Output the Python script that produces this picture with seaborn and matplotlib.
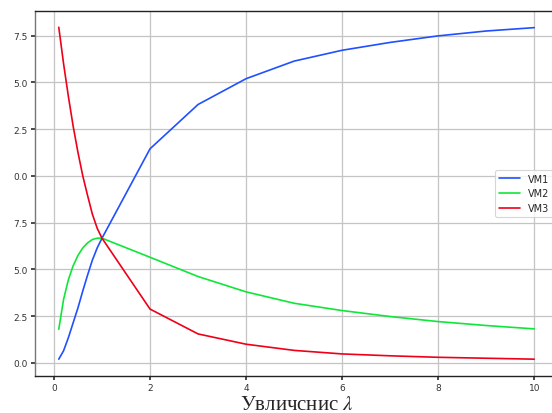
import numpy as np
import pandas as pd
import matplotlib
matplotlib.use("Agg")
import matplotlib.pyplot as plt
import seaborn as sns

x_vals = [0.1, 0.2, 0.3, 0.4, 0.5, 0.6, 0.7, 0.8, 0.9, 1.0, 2, 3, 4, 5, 6, 7, 8, 9, 10]
vm1 = [0.2, 0.65, 1.35, 2.15, 2.95, 3.85, 4.7, 5.5, 6.15, 6.67,
       11.45, 13.82, 15.2, 16.14, 16.72, 17.14, 17.49, 17.75, 17.93]
vm2 = [1.8, 3.4, 4.45, 5.2, 5.75, 6.15, 6.42, 6.6, 6.67, 6.67,
       5.65, 4.62, 3.8, 3.19, 2.8, 2.48, 2.21, 2.0, 1.82]
vm3 = [17.95, 16.0, 14.25, 12.65, 11.25, 10.0, 8.95, 7.95, 7.2, 6.67,
       2.88, 1.55, 1.0, 0.67, 0.48, 0.38, 0.3, 0.25, 0.2]
series_names = ["VM1", "VM2", "VM3"]
y_ticks = [0.0, 2.5, 5.0, 7.5, 10.0, 12.5, 15.0, 17.5]
y_tick_labels = ["0.0", "2.5", "5.0", "7.5", "0.0", "2.5", "5.0", "7.5"]
x_label = "Увличснис $\\lambda$"

df = pd.concat([
    pd.DataFrame({"x": x_vals, "y": v, "series": n})
    for n, v in zip(series_names, [vm1, vm2, vm3])
], ignore_index=True)

sns.set_theme(style="whitegrid", rc={
    "axes.edgecolor": "#222222",
    "axes.linewidth": 1.0,
    "grid.color": "#c4c4c4",
    "grid.linewidth": 0.9,
    "xtick.bottom": True,
    "ytick.left": True,
    "xtick.major.size": 3,
    "ytick.major.size": 3,
    "xtick.color": "#333333",
    "ytick.color": "#333333",
})
plt.rcParams["font.family"] = ["DejaVu Sans"]
plt.rcParams["mathtext.fontset"] = "stix"

fig = plt.figure(figsize=(5.52, 4.14), dpi=100)
ax = fig.add_axes([35 / 552, 37 / 414, (558 - 35) / 552, (377 - 12) / 414])

palette = {"VM1": "#2050ff", "VM2": "#10e63a", "VM3": "#f00018"}
sns.lineplot(data=df, x="x", y="y", hue="series", palette=palette,
             linewidth=1.2, ax=ax, sort=True, estimator=None)

ax.set_xlim(-0.395, 10.495)
ax.set_ylim(-0.7, 18.82)
ax.set_xticks([0, 2, 4, 6, 8, 10])
ax.set_xticklabels(["0", "2", "4", "6", "8", "10"])
ax.set_yticks(y_ticks)
ax.set_yticklabels(y_tick_labels)
ax.tick_params(axis="both", labelsize=6.5, pad=2)
ax.set_ylabel("")
ax.set_xlabel(x_label, fontsize=15, family="Liberation Serif", labelpad=2)
for s in ax.spines.values():
    s.set_visible(True)
ax.spines["right"].set_visible(False)
ax.spines["left"].set_color("#777777")

leg = ax.legend(loc="center right", bbox_to_anchor=(1.002, 0.5), fontsize=7,
                frameon=True, handlelength=2.2, borderaxespad=0.6)
leg.get_frame().set_edgecolor("#cccccc")
leg.get_frame().set_linewidth(0.8)

fig.savefig("out.png", dpi=100)
